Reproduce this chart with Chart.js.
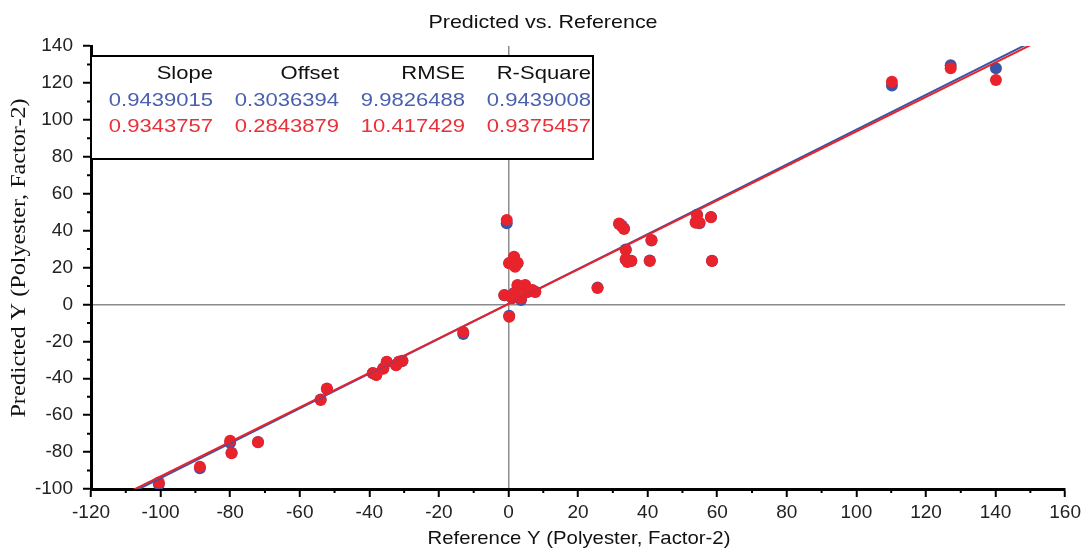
<!DOCTYPE html>
<html lang="en">
<head>
  <meta charset="UTF-8">
  <title>Predicted vs. Reference</title>
  <script src="https://cdn.jsdelivr.net/npm/chart.js"></script>
  <style>
    body {
      margin: 0;
      background-color: #fff;
    }
    #chartBox {
      width: 1085px;
      height: 548px;
    }
  </style>
</head>
<body>

<div id="chartBox">
  <canvas id="predChart" width="1085" height="548"></canvas>
</div>

<script>
  // reference values (x) and predicted values for both fits
  var referenceY = [-100.5, -88.7, -80.0, -79.6, -72.0, -54.0, -52.2, -39.0, -38.0, -36.0, -35.0, -32.3, -31.5, -30.5,
    -13.0, -0.5, 1.6, 0.2, 2.6, 1.9, -1.2, 0.2, 2.6, 4.0, 1.6, 3.6, 5.5, 6.9, 1.1, 4.8, 7.7,
    25.6, 31.8, 32.5, 33.2, 33.7, 33.7, 34.2, 35.3, 41.1, 40.6, 54.2, 53.8, 54.9, 58.2, 58.5,
    110.2, 127.1, 140.1];
  var predictedVal = [-96.5, -88.0, -73.8, -80.6, -74.7, -51.8, -45.5, -37.1, -38.3, -34.8, -31.0, -33.0, -31.0, -30.5,
    -15.0, 45.8, 25.8, 22.3, 22.6, 20.4, 5.1, -6.7, 10.5, 9.6, 6.0, 3.3, 6.9, 7.8, 3.3, 10.5, 6.7,
    8.9, 43.9, 42.5, 40.8, 29.5, 24.5, 23.0, 23.5, 34.9, 23.5, 48.4, 44.3, 44.3, 47.2, 23.5,
    120.6, 128.0, 121.6];
  var predictedCal = [-97.4, -88.8, -74.9, -80.4, -74.5, -51.5, -45.8, -37.3, -38.1, -34.6, -31.2, -32.8, -31.1, -30.6,
    -16.0, 44.0, 25.5, 22.5, 22.3, 20.8, 5.0, -6.2, 10.2, 9.4, 6.2, 2.4, 6.7, 7.6, 3.6, 10.3, 6.8,
    9.1, 43.6, 42.8, 41.2, 29.8, 24.3, 23.2, 23.6, 34.6, 23.8, 48.6, 44.6, 44.0, 47.4, 23.6,
    118.6, 129.6, 127.9];

  var statHeaders = ['Slope', 'Offset', 'RMSE', 'R-Square'];
  var calStats = ['0.9439015', '0.3036394', '9.9826488', '0.9439008'];
  var valStats = ['0.9343757', '0.2843879', '10.417429', '0.9375457'];

  var calSlope = 0.9439015, calOffset = 0.3036394;
  var valSlope = 0.9343757, valOffset = 0.2843879;

  var xMin = -120, xMax = 160, yMin = -100, yMax = 140, tickStep = 20;

  var BLUE = '#3b55a6';
  var RED = '#e8232b';

  function pairs(xs, ys) {
    return xs.map(function (x, i) { return { x: x, y: ys[i] }; });
  }

  function fitLine(slope, offset) {
    return [{ x: xMin, y: slope * xMin + offset }, { x: xMax, y: slope * xMax + offset }];
  }

  function stretchText(ctx, text, x, y, align, sx) {
    ctx.save();
    ctx.translate(x, y);
    ctx.scale(sx, 1);
    ctx.textAlign = align;
    ctx.fillText(text, 0, 0);
    ctx.restore();
  }

  var decorPlugin = {
    id: 'decor',
    afterDraw: function (chart) {
      var ctx = chart.ctx;
      var xs = chart.scales.x, ys = chart.scales.y;
      var area = chart.chartArea;

      // minor ticks
      ctx.save();
      ctx.strokeStyle = '#000';
      ctx.lineWidth = 2;
      ctx.beginPath();
      for (var v = yMin + 10; v < yMax; v += tickStep) {
        var py = ys.getPixelForValue(v);
        ctx.moveTo(area.left - 4, py);
        ctx.lineTo(area.left, py);
      }
      for (var u = xMin + 10; u < xMax; u += tickStep) {
        var px = xs.getPixelForValue(u);
        ctx.moveTo(px, area.bottom);
        ctx.lineTo(px, area.bottom + 4);
      }
      ctx.stroke();
      ctx.restore();

      // stats box
      ctx.save();
      ctx.fillStyle = '#fff';
      ctx.fillRect(area.left, 56, 502, 103);
      ctx.strokeStyle = '#000';
      ctx.lineWidth = 2;
      ctx.strokeRect(area.left, 56, 502, 103);
      ctx.font = '19px "Liberation Sans", Arial, sans-serif';
      ctx.textBaseline = 'alphabetic';
      var colRight = [213, 339, 465, 591];
      for (var i = 0; i < statHeaders.length; i++) {
        ctx.fillStyle = '#111';
        stretchText(ctx, statHeaders[i], colRight[i], 79, 'right', 1.16);
        ctx.fillStyle = '#4a5fae';
        stretchText(ctx, calStats[i], colRight[i], 106, 'right', 1.16);
        ctx.fillStyle = '#ea3038';
        stretchText(ctx, valStats[i], colRight[i], 132, 'right', 1.16);
      }
      ctx.restore();

      // title and axis titles
      ctx.save();
      ctx.fillStyle = '#111';
      ctx.font = '19px "Liberation Sans", Arial, sans-serif';
      stretchText(ctx, 'Predicted vs. Reference', 543, 28, 'center', 1.13);
      stretchText(ctx, 'Reference Y (Polyester, Factor-2)', 579, 544, 'center', 1.07);
      ctx.translate(25, 258);
      ctx.rotate(-Math.PI / 2);
      ctx.font = '21px "Liberation Serif", "Times New Roman", serif';
      stretchText(ctx, 'Predicted Y (Polyester, Factor-2)', 0, 0, 'center', 1.15);
      ctx.restore();
    }
  };

  function zeroGridColor(c) {
    return c.tick && c.tick.value === 0 ? '#8c8c8c' : 'rgba(0,0,0,0)';
  }

  var ctx = document.getElementById('predChart').getContext('2d');

  var predChart = new Chart(ctx, {
    type: 'scatter',
    data: {
      datasets: [
        {
          label: 'Validation fit',
          type: 'line',
          data: fitLine(valSlope, valOffset),
          borderColor: RED,
          borderWidth: 2,
          pointRadius: 0,
          fill: false,
          order: 0
        },
        {
          label: 'Calibration fit',
          type: 'line',
          data: fitLine(calSlope, calOffset),
          borderColor: BLUE,
          borderWidth: 2,
          pointRadius: 0,
          fill: false,
          order: 1
        },
        {
          label: 'Validation',
          data: pairs(referenceY, predictedVal),
          backgroundColor: RED,
          borderWidth: 0,
          pointRadius: 6,
          order: 2
        },
        {
          label: 'Calibration',
          data: pairs(referenceY, predictedCal),
          backgroundColor: BLUE,
          borderWidth: 0,
          pointRadius: 6,
          order: 3
        }
      ]
    },
    options: {
      responsive: false,
      animation: false,
      layout: {
        padding: { top: 46, right: 18, left: 0, bottom: 0 }
      },
      scales: {
        x: {
          type: 'linear',
          min: xMin,
          max: xMax,
          afterFit: function (scale) { scale.height = 59; },
          ticks: {
            stepSize: tickStep,
            color: '#222',
            padding: 4,
            maxRotation: 0,
            font: { family: '"Liberation Sans", Arial, sans-serif', size: 19 }
          },
          grid: {
            color: zeroGridColor,
            lineWidth: 1.5,
            tickColor: '#000',
            tickWidth: 2,
            tickLength: 8
          },
          border: { color: '#000', width: 3 }
        },
        y: {
          type: 'linear',
          min: yMin,
          max: yMax,
          afterFit: function (scale) { scale.width = 91; },
          ticks: {
            stepSize: tickStep,
            color: '#222',
            padding: 10,
            font: { family: '"Liberation Sans", Arial, sans-serif', size: 19 }
          },
          grid: {
            color: zeroGridColor,
            lineWidth: 1.5,
            tickColor: '#000',
            tickWidth: 2,
            tickLength: 8
          },
          border: { color: '#000', width: 3 }
        }
      },
      plugins: {
        legend: { display: false },
        tooltip: { enabled: false },
        title: { display: false }
      }
    },
    plugins: [decorPlugin]
  });
</script>

</body>
</html>
